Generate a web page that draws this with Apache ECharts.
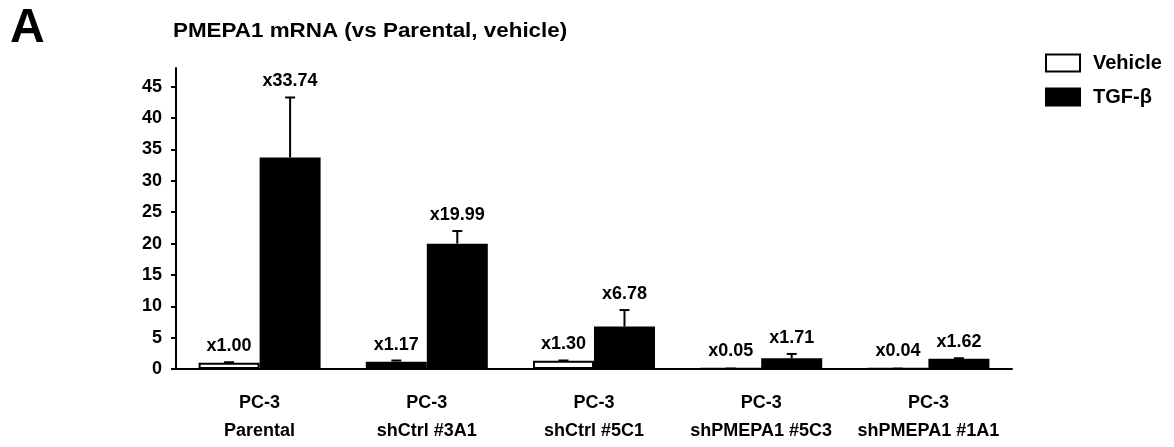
<!DOCTYPE html>
<html>
<head>
<meta charset="utf-8">
<script src="https://cdn.jsdelivr.net/npm/echarts@6/dist/echarts.min.js"></script>
<style>
  html, body { margin: 0; padding: 0; background: #fff; }
  #chart { width: 1174px; height: 447px; }
</style>
</head>
<body>
<div id="chart"></div>
<script>
// cell lines (two-line category labels)
const categories = ['PC-3\nParental', 'PC-3\nshCtrl #3A1', 'PC-3\nshCtrl #5C1', 'PC-3\nshPMEPA1 #5C3', 'PC-3\nshPMEPA1 #1A1']
// PMEPA1 mRNA fold change vs parental vehicle
const vehicle = [1.00, 1.17, 1.30, 0.05, 0.04]
const tgfb = [33.74, 19.99, 6.78, 1.71, 1.62]
// top of each error bar
const vehicleErrTop = [1.08, 1.35, 1.36, 0.07, 0.06]
const tgfbErrTop = [43.3, 22.0, 9.4, 2.4, 1.72]
const yTicks = [0, 5, 10, 15, 20, 25, 30, 35, 40, 45]

const BAR_W = 61
const FONT = "'Liberation Sans', Arial, sans-serif"

const chart = echarts.init(document.getElementById('chart'))

// error bar (upper half only) + optional value label above the cap
function errorBar(side, showLabel) {
  return function (params, api) {
    const i = api.value(0)
    const top = api.coord([i, api.value(1)])
    const base = api.coord([i, api.value(2)])
    const x = top[0] + side * BAR_W / 2
    const children = [
      { type: 'line', shape: { x1: x, y1: base[1], x2: x, y2: top[1] }, style: { stroke: '#000', lineWidth: 2 } },
      { type: 'line', shape: { x1: x - 5, y1: top[1], x2: x + 5, y2: top[1] }, style: { stroke: '#000', lineWidth: 2 } }
    ]
    if (showLabel) {
      children.push({
        type: 'text', x: x, y: top[1] - 7,
        style: {
          text: 'x' + api.value(2).toFixed(2),
          fontSize: 18, fontWeight: 'bold', fontFamily: FONT,
          fill: '#000', align: 'center', verticalAlign: 'bottom'
        }
      })
    }
    return { type: 'group', children: children }
  }
}

chart.setOption({
  animation: false,
  backgroundColor: '#fff',
  title: { text: 'A', left: 5, top: 0, textStyle: { fontSize: 48, fontWeight: 'bold', fontFamily: FONT, color: '#000' } },
  // subtitle comes out a little wide in the figure, so stretch it a bit
  graphic: [{
    type: 'text', left: 173, top: 21, scaleX: 1.12,
    style: { text: 'PMEPA1 mRNA (vs Parental, vehicle)', fontSize: 20, fontWeight: 'bold', fontFamily: FONT, fill: '#000' }
  }],
  legend: {
    data: ['Vehicle', 'TGF-β'],
    orient: 'vertical',
    left: 1040,
    top: 48,
    icon: 'rect',
    itemWidth: 34,
    itemHeight: 17,
    itemGap: 14,
    selectedMode: false,
    textStyle: { fontSize: 20, fontWeight: 'bold', fontFamily: FONT, color: '#000', padding: [0, 0, 0, 8] }
  },
  grid: { left: 176, right: 162, top: 68, bottom: 78 },
  xAxis: {
    type: 'category',
    data: categories,
    axisLine: { lineStyle: { color: '#000', width: 2 } },
    axisTick: { show: false },
    axisLabel: { color: '#000', fontSize: 18, fontWeight: 'bold', fontFamily: FONT, lineHeight: 28, margin: 20, interval: 0 }
  },
  yAxis: {
    type: 'value',
    min: 0,
    max: 48,
    splitLine: { show: false },
    axisLine: { show: true, lineStyle: { color: '#000', width: 2 } },
    axisTick: { show: true, length: 5, lineStyle: { color: '#000', width: 2 }, customValues: yTicks },
    axisLabel: { color: '#000', fontSize: 18, fontWeight: 'bold', fontFamily: FONT, margin: 14, customValues: yTicks }
  },
  series: [
    {
      name: 'Vehicle',
      type: 'bar',
      barWidth: BAR_W,
      barGap: 0,
      itemStyle: { color: '#fff', borderColor: '#000', borderWidth: 2 },
      // the #3A1 vehicle bar prints solid in the figure
      data: vehicle.map((v, i) => i === 1 ? { value: v, itemStyle: { color: '#000' } } : v),
      label: {
        show: true, position: 'top', distance: 8,
        formatter: p => 'x' + p.value.toFixed(2),
        color: '#000', fontSize: 18, fontWeight: 'bold', fontFamily: FONT
      }
    },
    {
      name: 'TGF-β',
      type: 'bar',
      barWidth: BAR_W,
      barGap: 0,
      itemStyle: { color: '#000', borderColor: '#000', borderWidth: 2 },
      data: tgfb
    },
    {
      name: 'vehicleErr',
      type: 'custom',
      renderItem: errorBar(-1, false),
      data: vehicle.map((v, i) => [i, vehicleErrTop[i], v]),
      z: 5
    },
    {
      name: 'tgfbErr',
      type: 'custom',
      renderItem: errorBar(1, true),
      data: tgfb.map((v, i) => [i, tgfbErrTop[i], v]),
      z: 5
    }
  ]
})
</script>
</body>
</html>
